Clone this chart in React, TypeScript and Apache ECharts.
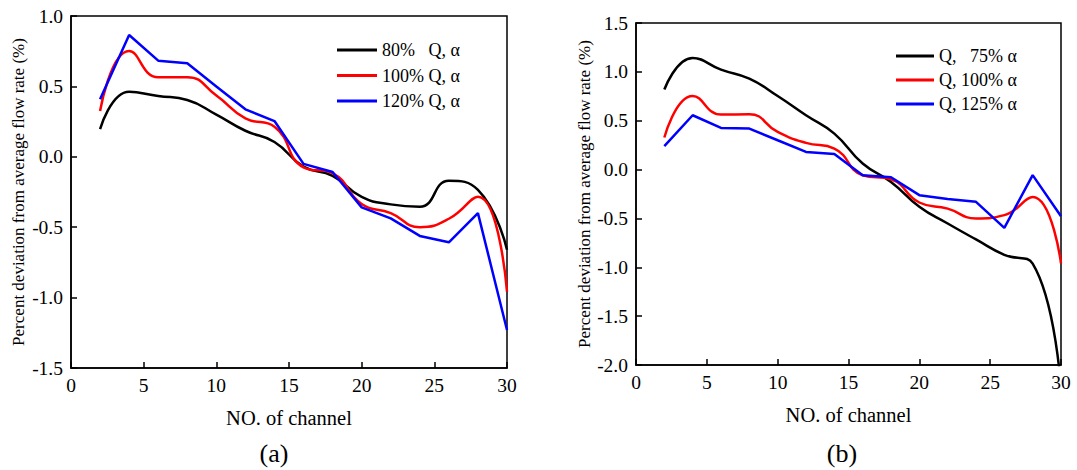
import React, { useEffect, useRef } from "react";
import * as echarts from "echarts";

const channels = [2, 4, 6, 8, 10, 12, 14, 16, 18, 20, 22, 24, 26, 28, 30];

// (a) flow-rate variation
const seriesA80 = [0.197, 0.462, 0.432, 0.403, 0.30, 0.185, 0.105, -0.07, -0.135, -0.285, -0.338, -0.355, -0.17, -0.235, -0.66];
const seriesA100 = [0.325, 0.752, 0.565, 0.565, 0.435, 0.273, 0.214, -0.075, -0.117, -0.335, -0.40, -0.50, -0.44, -0.283, -0.958];
const seriesA120 = [0.408, 0.865, 0.683, 0.664, 0.50, 0.337, 0.254, -0.05, -0.108, -0.359, -0.437, -0.562, -0.607, -0.40, -1.23];

// (b) alpha variation
const seriesB75 = [0.819, 1.142, 1.023, 0.93, 0.753, 0.556, 0.368, 0.062, -0.126, -0.38, -0.552, -0.715, -0.872, -0.962, -2.25];
const seriesB100 = [0.328, 0.754, 0.563, 0.566, 0.385, 0.273, 0.215, -0.058, -0.10, -0.337, -0.40, -0.50, -0.466, -0.28, -0.96];
const seriesB125 = [0.239, 0.556, 0.426, 0.42, 0.30, 0.181, 0.16, -0.058, -0.078, -0.262, -0.30, -0.33, -0.596, -0.057, -0.477];

const namesA = ["80%   Q, α", "100% Q, α", "120% Q, α"];
const namesB = ["Q,   75% α", "Q, 100% α", "Q, 125% α"];

const xTicks = { min: 0, max: 30, interval: 5 };
const yTicksA = { min: -1.5, max: 1.0, interval: 0.5 };
const yTicksB = { min: -2.0, max: 1.5, interval: 0.5 };

const FONT = "Liberation Serif, Times New Roman, Times, DejaVu Serif, serif";
const colors = ["#000000", "#ff0000", "#0000ff"];

function pairs(ys: number[]) {
  return channels.map((c, i) => [c, ys[i]]);
}

export default function App() {
  const ref = useRef<HTMLDivElement>(null);
  useEffect(() => {
    if (!ref.current) return;
    const chart = echarts.init(ref.current, null, { renderer: "svg" });

    const xAxisBase = (gridIndex: number, gap: number) => ({
      type: "value",
      gridIndex,
      min: xTicks.min,
      max: xTicks.max,
      interval: xTicks.interval,
      name: "NO. of channel",
      nameLocation: "middle",
      nameGap: gap,
      nameTextStyle: { fontFamily: FONT, fontSize: 20.5, color: "#000" },
      axisLine: { show: true, onZero: false, lineStyle: { color: "#000", width: 1.5 } },
      axisTick: { show: true, inside: true, length: 6, lineStyle: { color: "#000", width: 1.5 } },
      axisLabel: { fontFamily: FONT, fontSize: 19.5, color: "#000", margin: 7 },
      splitLine: { show: false },
    });

    const yAxisBase = (gridIndex: number, t: any, gap: number) => ({
      type: "value",
      gridIndex,
      min: t.min,
      max: t.max,
      interval: t.interval,
      name: "Percent deviation from average flow rate (%)",
      nameLocation: "middle",
      nameRotate: 90,
      nameGap: gap,
      nameTextStyle: { fontFamily: FONT, fontSize: 17, color: "#000" },
      axisLine: { show: true, onZero: false, lineStyle: { color: "#000", width: 1.5 } },
      axisTick: { show: true, inside: true, length: 6, lineStyle: { color: "#000", width: 1.5 } },
      axisLabel: {
        fontFamily: FONT,
        fontSize: 19.5,
        color: "#000",
        margin: 8,
        formatter: (v: number) => v.toFixed(1),
      },
      splitLine: { show: false },
    });

    const mk = (name: string, data: number[], idx: number, color: string, smooth: boolean) => ({
      type: "line",
      name,
      xAxisIndex: idx,
      yAxisIndex: idx,
      data: pairs(data),
      smooth: smooth ? 0.5 : false,
      showSymbol: false,
      symbol: "none",
      clip: true,
      lineStyle: { color, width: 2.5 },
      itemStyle: { color },
    });

    const legendBase = {
      orient: "vertical",
      icon: "rect",
      itemWidth: 40,
      itemHeight: 3,
      textStyle: { fontFamily: FONT, fontSize: 18, color: "#000", lineHeight: 18 },
    };

    const titleStyle = { fontFamily: FONT, fontSize: 26, fontWeight: "normal", color: "#000", lineHeight: 26 };

    chart.setOption({
      animation: false,
      backgroundColor: "#fff",
      textStyle: { fontFamily: FONT },
      title: [
        { text: "(a)", left: 274, top: 440, padding: 0, textAlign: "center", textStyle: titleStyle },
        { text: "(b)", left: 842, top: 440, padding: 0, textAlign: "center", textStyle: titleStyle },
      ],
      grid: [
        { left: 71, top: 16, width: 436, height: 352, show: true, borderColor: "#000", borderWidth: 1.5, backgroundColor: "transparent" },
        { left: 636, top: 23, width: 425, height: 342, show: true, borderColor: "#000", borderWidth: 1.5, backgroundColor: "transparent" },
      ],
      xAxis: [xAxisBase(0, 39), xAxisBase(1, 39)],
      yAxis: [yAxisBase(0, yTicksA, 44), yAxisBase(1, yTicksB, 43)],
      legend: [
        { ...legendBase, data: namesA, left: 332, top: 36, itemGap: 7.5 },
        { ...legendBase, data: namesB, left: 891, itemWidth: 38, top: 42, itemGap: 6 },
      ],
      series: [
        mk(namesA[0], seriesA80, 0, colors[0], true),
        mk(namesA[1], seriesA100, 0, colors[1], true),
        mk(namesA[2], seriesA120, 0, colors[2], false),
        mk(namesB[0], seriesB75, 1, colors[0], true),
        mk(namesB[1], seriesB100, 1, colors[1], true),
        mk(namesB[2], seriesB125, 1, colors[2], false),
      ],
    });
    return () => chart.dispose();
  }, []);
  return (
    <div
      ref={ref}
      style={{ position: "fixed", left: 0, top: 0, width: 1077, height: 470 }}
    />
  );
}
